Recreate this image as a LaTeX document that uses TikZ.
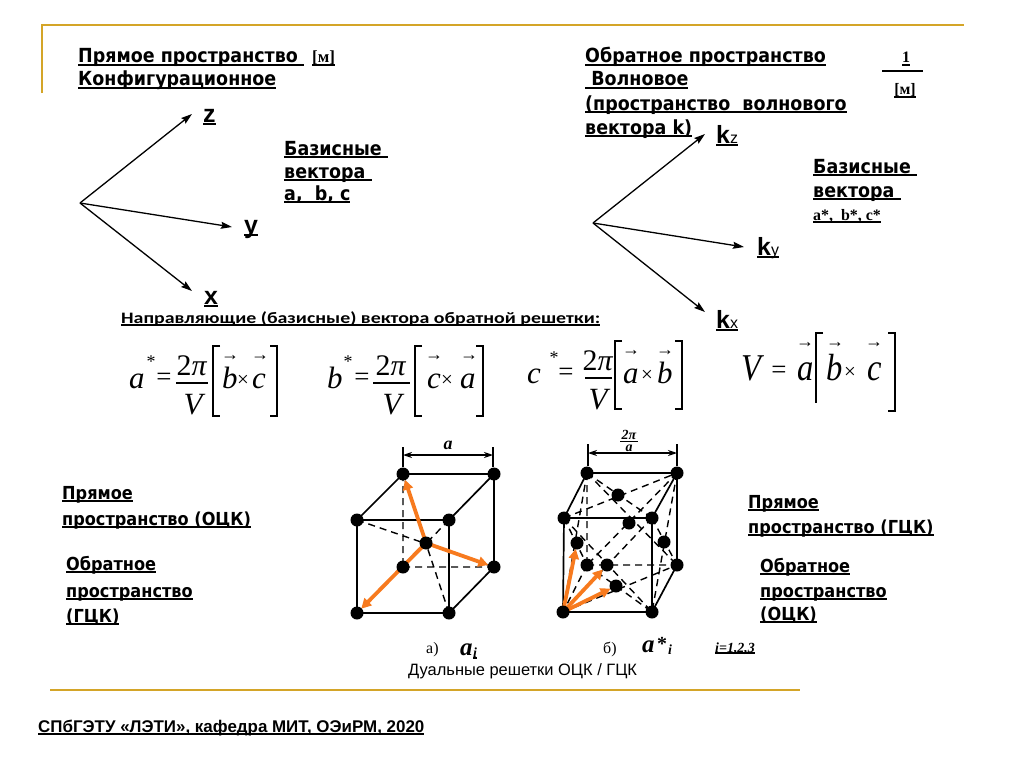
\documentclass[tikz,border=0pt]{standalone}
\usepackage{fontspec}
\setmainfont{Liberation Serif}
\newfontfamily\dvs[FakeStretch=0.9]{DejaVu Sans}
\newfontfamily\carl{Carlito}
\newfontfamily\ars{Liberation Sans}
\newfontfamily\tnrc[FakeStretch=0.86]{Liberation Serif}
\usetikzlibrary{arrows.meta}
\definecolor{gold}{RGB}{212,165,40}
\definecolor{orng}{RGB}{247,122,30}
\newcommand\myul[2][3]{\setbox0\hbox{#2}\rlap{\rule[-#1bp]{\wd0}{1.7bp}}\box0}
\tikzset{
  txt/.style={inner sep=0pt, anchor=base west},
  hd/.style={txt, font=\dvs\bfseries\fontsize{19.5}{22}\selectfont},
  lbl/.style={txt, font=\dvs\bfseries\fontsize{18}{20}\selectfont},
  axl/.style={txt, font=\ars\bfseries\fontsize{25}{28}\selectfont},
  tb/.style={txt, font=\bfseries\fontsize{16}{19}\selectfont},
  ax/.style={line width=1.3bp, -{Stealth[length=11bp,width=7bp,inset=1.5bp]}},
  mi/.style={txt, font=\itshape\fontsize{31}{36}\selectfont},
  mib/.style={txt, font=\tnrc\itshape\fontsize{38}{44}\selectfont},
  mr/.style={inner sep=0pt, font=\fontsize{27}{32}\selectfont},
  mn/.style={inner sep=0pt, anchor=base, font=\fontsize{30}{32}\selectfont},
  mx/.style={inner sep=0pt, font=\fontsize{21}{22}\selectfont},
  ms/.style={inner sep=0pt, font=\fontsize{18}{18}\selectfont},
  vecar/.style={inner sep=0pt, font=\fontsize{18}{18}\selectfont},
  brk/.style={line width=1.3bp},
  cedge/.style={line width=1.7bp},
  hid/.style={line width=1.4bp, dash pattern=on 7bp off 5bp},
  atom/.style={circle, fill=black, inner sep=0pt, minimum size=13bp},
  oarr/.style={draw=orng, line width=3.8bp, -{Triangle[length=10bp,width=10bp]}, shorten >=6bp},
  dimln/.style={line width=1.2bp, {Stealth[length=9bp,width=6bp]}-{Stealth[length=9bp,width=6bp]}},
  tick/.style={line width=1.2bp},
}
\begin{document}
\begin{tikzpicture}[x=1bp,y=-1bp]
\path[use as bounding box, fill=white] (0,0) rectangle (1024,768);
% frame lines
\draw[gold, line width=2.2bp] (42,93) -- (42,25) -- (964,25);
\draw[gold, line width=2.2bp] (50,690) -- (800,690);

% top-left texts
\node[hd] (t1) at (78,63) {\myul{Прямое пространство\ }};
\node[txt, font=\bfseries\fontsize{17}{19}\selectfont] (t1u) at (312,63) {\myul{[м]}};
\node[hd] (t2) at (78,86) {\myul{Конфигурационное}};

% left axes
\coordinate (o1) at (80,203);
\coordinate (z1) at (192,114);
\coordinate (y1) at (232,227);
\coordinate (x1) at (192,291);
\draw[ax] (o1) -- (z1);
\draw[ax] (o1) -- (y1);
\draw[ax] (o1) -- (x1);
\node[axl] (zl) at (203,122) {\myul{z}};
\node[axl] (yl) at (244,233) {\myul{y}};
\node[axl] (xl) at (204,304) {\myul{x}};

\node[hd] (bl1) at (284,155) {\myul{Базисные\ }};
\node[hd] (bl2) at (284,178) {\myul{вектора\ }};
\node[hd] (bl3) at (284,200) {\myul{a,\ \ b, c}};

% top-right texts
\node[hd] (r1) at (585,63) {\myul{Обратное пространство}};
\node[hd] (r2) at (585,86) {\myul{\ Волновое}};
\node[hd] (r3) at (585,110) {\myul{(пространство\ \ волнового}};
\node[hd] (r4) at (585,134) {\myul{вектора k)}};
\node[inner sep=0pt, anchor=base, font=\bfseries\fontsize{16}{18}\selectfont] (one) at (906,63) {\myul{1}};
\draw[line width=1.3bp] (882,71) -- (923,71);
\node[inner sep=0pt, anchor=base, font=\bfseries\fontsize{16}{18}\selectfont] (mm) at (905,95) {\myul{[м]}};

% right axes
\coordinate (o2) at (593,223);
\coordinate (kz) at (705,134);
\coordinate (ky) at (744,247);
\coordinate (kx) at (705,312);
\draw[ax] (o2) -- (kz);
\draw[ax] (o2) -- (ky);
\draw[ax] (o2) -- (kx);
\node[axl] (kzl) at (716,143) {\myul{k{\mdseries\fontsize{16}{16}\selectfont z}}};
\node[axl] (kyl) at (757,255) {\myul{k{\mdseries\fontsize{16}{16}\selectfont y}}};
\node[axl] (kxl) at (716,328) {\myul{k{\mdseries\fontsize{16}{16}\selectfont x}}};

\node[hd] (br1) at (813,173) {\myul{Базисные\ }};
\node[hd] (br2) at (813,197) {\myul{вектора\ }};
\node[tb] (br3) at (813,220) {\myul{a*,\ \ b*, c*}};

% heading of formulas
\node[txt, font=\carl\bfseries\fontsize{16}{20}\selectfont] (nap) at (121,323)
  {\myul[3]{\resizebox{479bp}{\height}{Направляющие (базисные) вектора обратной решетки:}}};

% formula 1
\node[mi] (f1a) at (129,388) {a};
\node[ms] (f1s) at (151,362) {*};
\node[mr] (f1e) at (164,379) {=};
\node[mn] (f1n) at (192,375) {2\textit{π}};
\draw[brk] (176,383) -- (208,383);
\node[mi, anchor=base] (f1d) at (193,414) {V};
\draw[brk] (220,346) -- (213,346) -- (213,416) -- (220,416);
\draw[brk] (270,346) -- (277,346) -- (277,416) -- (270,416);
\node[mi] (f1b) at (222,388) {b};
\node[mx] (f1x) at (243,381) {×};
\node[mi] (f1c) at (252,388) {c};
\node[vecar] (f1v1) at (230,358) {→};
\node[vecar] (f1v2) at (260,358) {→};

% formula 2
\node[mi] (f2b) at (327,388) {b};
\node[ms] (f2s) at (348,362) {*};
\node[mr] (f2e) at (362,379) {=};
\node[mn] (f2n) at (391,375) {2\textit{π}};
\draw[brk] (373,383) -- (410,383);
\node[mi, anchor=base] (f2d) at (392,414) {V};
\draw[brk] (422,346) -- (415,346) -- (415,416) -- (422,416);
\draw[brk] (476,346) -- (483,346) -- (483,416) -- (476,416);
\node[mi] (f2c) at (427,388) {c};
\node[mx] (f2x) at (447,381) {×};
\node[mi] (f2a) at (460,388) {a};
\node[vecar] (f2v1) at (434,358) {→};
\node[vecar] (f2v2) at (469,358) {→};

% formula 3
\node[mi] (f3c) at (527,383) {c};
\node[ms] (f3s) at (554,358) {*};
\node[mr] (f3e) at (566,374) {=};
\node[mn] (f3n) at (598,370) {2\textit{π}};
\draw[brk] (585,378) -- (612,378);
\node[mi, anchor=base] (f3d) at (598,409) {V};
\draw[brk] (622,341) -- (615,341) -- (615,409) -- (622,409);
\draw[brk] (675,341) -- (682,341) -- (682,409) -- (675,409);
\node[mi] (f3a) at (623,383) {a};
\node[mx] (f3x) at (647,376) {×};
\node[mi] (f3b) at (657,383) {b};
\node[vecar] (f3v1) at (631,353) {→};
\node[vecar] (f3v2) at (665,353) {→};

% formula 4
\node[mib] (f4v) at (741,380) {V};
\node[mr] (f4e) at (779,372) {=};
\node[mib] (f4a) at (797,380) {a};
\node[vecar] (f4v0) at (805,345) {→};
\draw[brk] (823,333) -- (816,333) -- (816,403);
\node[mib] (f4b) at (826,380) {b};
\node[mx] (f4x) at (850,373) {×};
\node[mib] (f4c) at (867,380) {c};
\node[vecar] (f4v1) at (835,345) {→};
\node[vecar] (f4v2) at (874,345) {→};
\draw[brk] (888,333) -- (895,333) -- (895,411) -- (888,411);

% BCC cube
\coordinate (A1) at (357,520); \coordinate (A2) at (449,520);
\coordinate (A3) at (357,613); \coordinate (A4) at (449,613);
\coordinate (B1) at (403,474); \coordinate (B2) at (494,474);
\coordinate (B3) at (403,567); \coordinate (B4) at (494,567);
\coordinate (C) at (426,543);
\draw[hid] (B1) -- (B3) (B3) -- (B4) (B3) -- (A3) (A1) -- (B4) (A4) -- (B1) (A2) -- (B3);
\draw[cedge] (A1) -- (A2) -- (A4) -- (A3) -- cycle (A1) -- (B1) -- (B2) -- (A2) (B2) -- (B4) -- (A4);
\draw[oarr] (C) -- (B1);
\draw[oarr] (C) -- (B4);
\draw[oarr] (C) -- (A3);
\foreach \p in {A1,A2,A3,A4,B1,B2,B3,B4,C} \node[atom] at (\p) {};
\coordinate (d1a) at (403,455); \coordinate (d1b) at (493,455);
\draw[tick] (403,447) -- (403,467) (493,447) -- (493,467);
\draw[dimln] (d1a) -- (d1b);
\node[inner sep=0pt, font=\bfseries\itshape\fontsize{18}{18}\selectfont] (adim) at (448,445) {a};

% FCC cube
\coordinate (F1) at (564,518); \coordinate (F2) at (652,518);
\coordinate (F3) at (563,612); \coordinate (F4) at (652,612);
\coordinate (G1) at (587,473); \coordinate (G2) at (677,473);
\coordinate (G3) at (587,565); \coordinate (G4) at (677,565);
\coordinate (Tc) at (618,495); \coordinate (Fc) at (607,565);
\coordinate (Rc) at (664,542); \coordinate (Lc) at (577,543);
\coordinate (Kc) at (629,523); \coordinate (Dc) at (616,586);
\draw[hid] (G1) -- (G3) (G3) -- (G4) (G3) -- (F3)
  (G1) -- (F2) (F1) -- (G2) (F1) -- (F4) (F2) -- (F3)
  (F2) -- (G4) (G2) -- (F4) (F1) -- (G3) (G1) -- (F3)
  (F3) -- (G4) (G3) -- (F4) (G1) -- (G4) (G2) -- (G3);
\draw[cedge] (F1) -- (F2) -- (F4) -- (F3) -- cycle (F1) -- (G1) -- (G2) -- (F2) (G2) -- (G4) -- (F4);
\draw[oarr] (F3) -- (Lc);
\draw[oarr] (F3) -- (Fc);
\draw[oarr] (F3) -- (Dc);
\foreach \p in {F1,F2,F3,F4,G1,G2,G3,G4,Tc,Fc,Rc,Lc,Kc,Dc} \node[atom] at (\p) {};
\coordinate (d2a) at (588,453); \coordinate (d2b) at (677,453);
\draw[tick] (588,444) -- (588,466) (677,444) -- (677,466);
\draw[dimln] (d2a) -- (d2b);
\node[inner sep=0pt, anchor=base, font=\bfseries\itshape\fontsize{14}{14}\selectfont] (pin) at (629,439) {2π};
\draw[line width=1bp] (620,441.5) -- (638,441.5);
\node[inner sep=0pt, anchor=base, font=\bfseries\itshape\fontsize{14}{14}\selectfont] (pia) at (629,451) {a};

% side labels
\node[lbl] (ls1) at (62,499) {\myul{Прямое}};
\node[lbl] (ls2) at (62,525) {\myul{пространство (ОЦК)}};
\node[lbl] (ls3) at (66,570) {\myul{Обратное}};
\node[lbl] (ls4) at (66,597) {\myul{пространство}};
\node[lbl] (ls5) at (66,622) {\myul{(ГЦК)}};
\node[lbl] (rs1) at (748,508) {\myul{Прямое}};
\node[lbl] (rs2) at (748,533) {\myul{пространство (ГЦК)}};
\node[lbl] (rs3) at (760,572) {\myul{Обратное}};
\node[lbl] (rs4) at (760,597) {\myul{пространство}};
\node[lbl] (rs5) at (760,620) {\myul{(ОЦК)}};

% captions
\node[txt, font=\fontsize{16}{16}\selectfont] (ca) at (426,653) {а)};
\node[txt, font=\bfseries\itshape\fontsize{25}{25}\selectfont] (cai) at (460,655) {a};
\node[txt, font=\bfseries\itshape\fontsize{14}{14}\selectfont] (caii) at (473,657) {\myul[2]{i}};
\node[txt, font=\fontsize{16}{16}\selectfont] (cb) at (603,653) {б)};
\node[txt, font=\bfseries\itshape\fontsize{25}{25}\selectfont] (cbi) at (642,652) {a};
\node[txt, font=\bfseries\fontsize{20}{20}\selectfont] (cbs) at (657,650) {*};
\node[txt, font=\bfseries\itshape\fontsize{14}{14}\selectfont] (cbii) at (668,654) {i};
\node[txt, font=\bfseries\itshape\fontsize{14}{14}\selectfont] (cidx) at (715,652) {\myul[2]{i=1,2,3}};
\node[txt, font=\ars\fontsize{16.5}{17}\selectfont] (dual) at (408,675) {Дуальные решетки ОЦК / ГЦК};
\node[txt, font=\ars\bfseries\fontsize{17}{19}\selectfont] (foot) at (38,732) {\myul{СПбГЭТУ «ЛЭТИ», кафедра МИТ, ОЭиРМ, 2020}};
\end{tikzpicture}
\end{document}
